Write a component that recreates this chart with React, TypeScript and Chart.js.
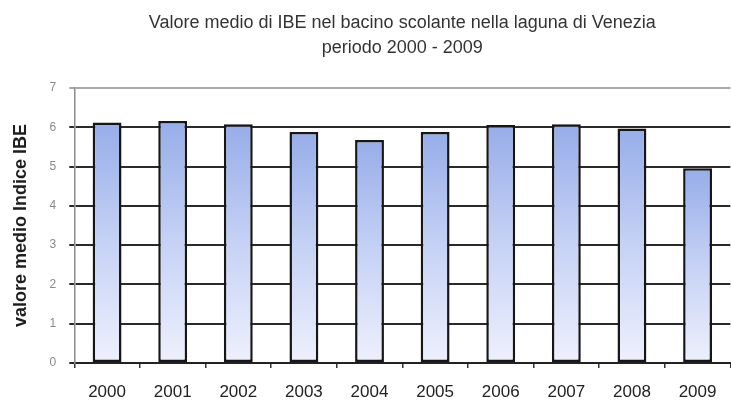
import React, { useEffect, useRef } from "react";
import { Chart, registerables } from "chart.js";

Chart.register(...registerables);

const categories = ["2000", "2001", "2002", "2003", "2004", "2005", "2006", "2007", "2008", "2009"];
const ibeValues = [6.12, 6.16, 6.08, 5.88, 5.68, 5.88, 6.06, 6.08, 5.97, 4.96];
const titleLines = ["Valore medio di IBE nel bacino scolante nella laguna di Venezia", "periodo 2000 - 2009"];
const yAxisTitle = "valore medio Indice IBE";

const FONT = "'Liberation Sans', Arial, sans-serif";

export default function App() {
  const ref = useRef<HTMLCanvasElement | null>(null);
  useEffect(() => {
    document.body.style.margin = "0";
    const canvas = ref.current!;
    const chart = new Chart(canvas, {
      type: "bar",
      data: {
        labels: categories,
        datasets: [
          {
            data: ibeValues,
            backgroundColor: (ctx: any) => {
              const c = ctx.chart;
              const ys = c.scales?.y;
              if (!ys || ctx.raw == null) return "#b8c6f0";
              const top = ys.getPixelForValue(ctx.raw);
              const bottom = ys.getPixelForValue(0);
              if (!isFinite(top) || !isFinite(bottom) || top === bottom) return "#b8c6f0";
              const g = c.ctx.createLinearGradient(0, top, 0, bottom);
              g.addColorStop(0, "#97ade9");
              g.addColorStop(0.5, "#c6d2f5");
              g.addColorStop(1, "#eef0fc");
              return g;
            },
            borderColor: "#161616",
            borderWidth: 2.5,
            borderSkipped: false,
            categoryPercentage: 1,
            barPercentage: 0.44,
          },
        ],
      },
      options: {
        animation: false,
        responsive: false,
        maintainAspectRatio: false,
        layout: { padding: { left: 6, right: -5, top: 0, bottom: 0 } },
        plugins: {
          legend: { display: false },
          tooltip: { enabled: false },
          title: {
            display: true,
            text: titleLines,
            fullSize: false,
            color: "#333333",
            font: { family: FONT, size: 18, weight: "normal", lineHeight: 1.39 },
            padding: { top: 11, bottom: 27 },
          },
        },
        scales: {
          x: {
            afterFit: (scale: any) => {
              scale.height = 40;
            },
            grid: {
              display: true,
              drawOnChartArea: false,
              drawTicks: true,
              tickLength: 5,
              color: "#333333",
              lineWidth: 1.5,
              offset: true,
            },
            border: { display: true, color: "#222222", width: 2 },
            ticks: {
              color: "#222222",
              padding: 14.5,
              maxRotation: 0,
              font: { family: FONT, size: 17 },
            },
          },
          y: {
            min: 0,
            max: 7,
            ticks: {
              stepSize: 1,
              color: "#8a8a8a",
              padding: 13,
              font: { family: FONT, size: 12 },
            },
            grid: {
              color: (ctx: any) => (ctx.tick && ctx.tick.value === 7 ? "#a8a8a8" : "#2a2a2a"),
              lineWidth: 2,
              tickLength: 5,
              drawTicks: true,
            },
            border: { display: true, color: "#8c8c8c", width: 1.5 },
            title: {
              display: true,
              text: yAxisTitle,
              color: "#1e1e1e",
              font: { family: FONT, size: 18, weight: "bold" },
              padding: { top: 4, bottom: 5 },
            },
          },
        },
      },
    });
    return () => chart.destroy();
  }, []);
  return (
    <div style={{ width: 731, height: 403, position: "relative" }}>
      <canvas ref={ref} width={731} height={403} style={{ display: "block", width: 731, height: 403 }} />
    </div>
  );
}
